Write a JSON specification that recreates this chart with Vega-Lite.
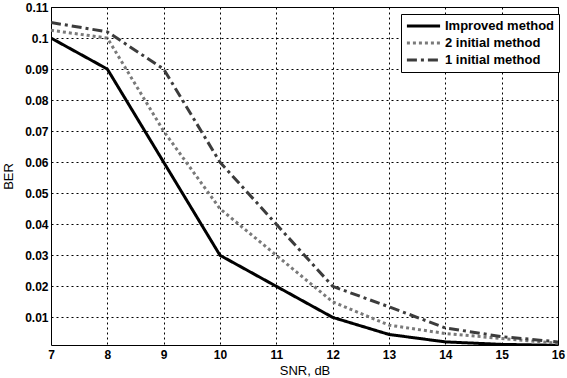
{
  "$schema": "https://vega.github.io/schema/vega-lite/v6.json",
  "autosize": {"type": "none"},
  "width": 507,
  "height": 338,
  "padding": {"left": 51, "top": 7, "right": 9, "bottom": 33},
  "background": "white",
  "config": {
    "font": "Liberation Sans",
    "view": {"stroke": "black", "strokeWidth": 1}
  },
  "data": {
    "values": [
      {"snr": 7, "ber": 0.1, "method": "Improved method"},
      {"snr": 8, "ber": 0.09, "method": "Improved method"},
      {"snr": 9, "ber": 0.06, "method": "Improved method"},
      {"snr": 10, "ber": 0.03, "method": "Improved method"},
      {"snr": 11, "ber": 0.02, "method": "Improved method"},
      {"snr": 12, "ber": 0.01, "method": "Improved method"},
      {"snr": 13, "ber": 0.0045, "method": "Improved method"},
      {"snr": 14, "ber": 0.0021, "method": "Improved method"},
      {"snr": 15, "ber": 0.0013, "method": "Improved method"},
      {"snr": 16, "ber": 0.001, "method": "Improved method"},
      {"snr": 7, "ber": 0.1025, "method": "2 initial method"},
      {"snr": 8, "ber": 0.1, "method": "2 initial method"},
      {"snr": 9, "ber": 0.07, "method": "2 initial method"},
      {"snr": 10, "ber": 0.045, "method": "2 initial method"},
      {"snr": 11, "ber": 0.03, "method": "2 initial method"},
      {"snr": 12, "ber": 0.015, "method": "2 initial method"},
      {"snr": 13, "ber": 0.0075, "method": "2 initial method"},
      {"snr": 14, "ber": 0.0048, "method": "2 initial method"},
      {"snr": 15, "ber": 0.0032, "method": "2 initial method"},
      {"snr": 16, "ber": 0.0017, "method": "2 initial method"},
      {"snr": 7, "ber": 0.105, "method": "1 initial method"},
      {"snr": 8, "ber": 0.102, "method": "1 initial method"},
      {"snr": 9, "ber": 0.09, "method": "1 initial method"},
      {"snr": 10, "ber": 0.06, "method": "1 initial method"},
      {"snr": 11, "ber": 0.04, "method": "1 initial method"},
      {"snr": 12, "ber": 0.02, "method": "1 initial method"},
      {"snr": 13, "ber": 0.0134, "method": "1 initial method"},
      {"snr": 14, "ber": 0.0066, "method": "1 initial method"},
      {"snr": 15, "ber": 0.0038, "method": "1 initial method"},
      {"snr": 16, "ber": 0.0021, "method": "1 initial method"}
    ]
  },
  "mark": {"type": "line", "strokeWidth": 3, "clip": true},
  "encoding": {
    "x": {
      "field": "snr", "type": "quantitative",
      "scale": {"domain": [7, 16], "nice": false, "zero": false},
      "axis": {
        "title": "SNR, dB", "values": [7, 8, 9, 10, 11, 12, 13, 14, 15, 16],
        "grid": true, "gridColor": "black", "gridDash": [2, 3], "gridWidth": 1, "gridOpacity": 1,
        "ticks": false, "domain": false,
        "labelFont": "Liberation Sans", "labelFontWeight": "bold", "labelFontSize": 12, "labelColor": "black",
        "labelPadding": 4, "labelFlush": false,
        "titleFont": "Liberation Sans", "titleFontWeight": "normal", "titleFontSize": 13, "titleColor": "black",
        "titlePadding": 4
      }
    },
    "y": {
      "field": "ber", "type": "quantitative",
      "scale": {"domain": [0.0011, 0.11], "nice": false, "zero": false},
      "axis": {
        "title": "BER", "values": [0.01, 0.02, 0.03, 0.04, 0.05, 0.06, 0.07, 0.08, 0.09, 0.1, 0.11],
        "format": "~g",
        "grid": true, "gridColor": "black", "gridDash": [2, 3], "gridWidth": 1, "gridOpacity": 1,
        "ticks": false, "domain": false,
        "labelFont": "Liberation Sans", "labelFontWeight": "bold", "labelFontSize": 12, "labelColor": "black",
        "labelPadding": 3, "labelFlush": false,
        "titleFont": "Liberation Sans", "titleFontWeight": "normal", "titleFontSize": 13, "titleColor": "black",
        "titlePadding": 9
      }
    },
    "color": {
      "field": "method", "type": "nominal",
      "scale": {"domain": ["Improved method", "2 initial method", "1 initial method"], "range": ["#000000", "#7a7a7a", "#3c3c3c"]},
      "legend": {
        "title": null, "orient": "none", "legendX": 350, "legendY": 7,
        "strokeColor": "black", "fillColor": "white", "padding": 4,
        "symbolType": "stroke", "symbolSize": 1100, "symbolStrokeWidth": 3, "clipHeight": 16,
        "labelFont": "Liberation Sans", "labelFontWeight": "bold", "labelFontSize": 13, "labelColor": "black",
        "rowPadding": 1, "labelOffset": 3
      }
    },
    "strokeDash": {
      "field": "method", "type": "nominal",
      "scale": {"domain": ["Improved method", "2 initial method", "1 initial method"], "range": [[1, 0], [3, 3], [10, 4, 3, 4]]},
      "legend": {
        "title": null, "orient": "none", "legendX": 350, "legendY": 7,
        "strokeColor": "black", "fillColor": "white", "padding": 4,
        "symbolType": "stroke", "symbolSize": 1100, "symbolStrokeWidth": 3, "clipHeight": 16,
        "labelFont": "Liberation Sans", "labelFontWeight": "bold", "labelFontSize": 13, "labelColor": "black",
        "rowPadding": 1, "labelOffset": 3
      }
    }
  }
}
